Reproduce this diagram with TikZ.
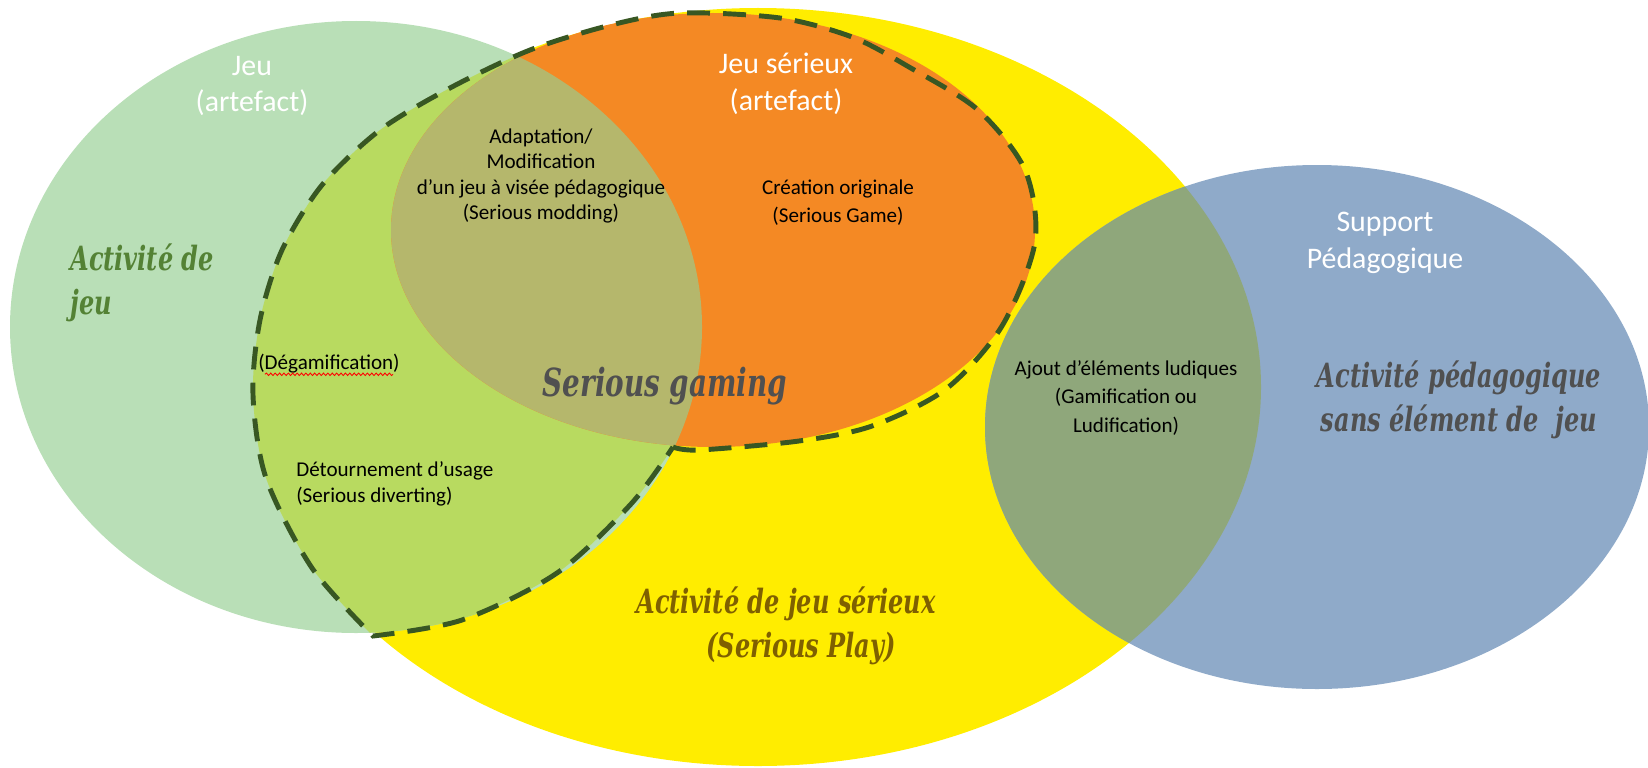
\documentclass[tikz,border=0pt]{standalone}
\usepackage{fontspec}
\setmainfont{Carlito}
\newfontfamily\lobster[FakeStretch=0.72]{DejaVu Serif}
\usetikzlibrary{positioning,decorations.pathmorphing}

\definecolor{vertclair}{RGB}{185,223,183}
\definecolor{vertlime}{RGB}{184,218,96}
\definecolor{olive}{RGB}{181,183,108}
\definecolor{orangejeu}{RGB}{244,137,36}
\definecolor{jaune}{RGB}{255,237,0}
\definecolor{bleu}{RGB}{143,170,201}
\definecolor{grisvert}{RGB}{143,167,123}
\definecolor{trait}{RGB}{56,87,35}
\definecolor{vertfonce}{RGB}{84,130,53}
\definecolor{grisfonce}{RGB}{80,80,80}
\definecolor{brun}{RGB}{127,96,0}

% contour du jeu serieux (pointille)
\def\contour{plot[smooth] coordinates {(673,447) (699,450) (799,441) (872,426)
  (946,389) (1002,326) (1035,242) (1025,170) (978,110) (909,67) (852,37) (780,18)
  (680,13) (611,25) (530,50) (450,88) (380,130) (322,185) (282,250) (260,320)
  (253,395) (266,478) (312,568) (373,636)}
  -- plot[smooth] coordinates {(373,636) (462,620) (557,573) (631,504) (673,447)}
  -- cycle}

\begin{document}
\begin{tikzpicture}[x=0.02cm, y=-0.02cm,
  petit/.style={font=\fontsize{12}{14.5}\selectfont, align=center, inner sep=0pt},
  blanc/.style={text=white, font=\fontsize{17}{21}\selectfont, align=center, inner sep=0pt},
  titre/.style={font=\lobster\bfseries\itshape\fontsize{19}{25}\selectfont, align=center, inner sep=0pt},
  pointille/.style={draw=trait, line width=2.8pt, dash pattern=on 13pt off 7.5pt}]
  \useasboundingbox (0,0) rectangle (1648,767);

  % Ensembles
  \fill[jaune] (758,387) ellipse [x radius=503, y radius=379];
  \fill[vertclair] (356,327) ellipse [x radius=346, y radius=306];
  \begin{scope}
    \clip (356,327) ellipse [x radius=346, y radius=306];
    \fill[vertlime] \contour;
  \end{scope}
  \fill[orangejeu] (713,230) ellipse [x radius=322, y radius=217];
  \begin{scope}
    \clip (356,327) ellipse [x radius=346, y radius=306];
    \fill[olive] (713,230) ellipse [x radius=322, y radius=217];
  \end{scope}
  \fill[bleu] (1317,427) ellipse [x radius=332, y radius=262];
  \begin{scope}
    \clip (758,387) ellipse [x radius=503, y radius=379];
    \fill[grisvert] (1317,427) ellipse [x radius=332, y radius=262];
  \end{scope}
  \draw[pointille] \contour;

  % Etiquettes
  \node[blanc] (jeu) at (252,86) {Jeu\\(artefact)};
  \node[blanc] (jeuserieux) at (786,84) {Jeu sérieux\\(artefact)};
  \node[blanc] (support) at (1385,243) {Support\\Pédagogique};
  \node[titre, text=vertfonce, align=left, anchor=west] (activitejeu) at (70,283) {Activité de\\jeu};
  \node[petit] (modding) at (541,176) {Adaptation/\\Modification\\d’un jeu à visée pédagogique\\(Serious modding)};
  \node[petit, font=\fontsize{12}{16}\selectfont] (creation) at (838,203) {Création originale\\(Serious Game)};
  \node[titre, text=grisfonce, font=\lobster\bfseries\itshape\fontsize{22}{28}\selectfont] (gaming) at (665,386) {Serious gaming};
  \node[petit, anchor=west] (degam) at (258,364) {(Dégamification)};
  \draw[red, line width=0.5pt, decorate, decoration={snake, amplitude=0.7pt, segment length=2.5pt}]
    ([xshift=0.14cm, yshift=-2.5pt]degam.base west) -- ([xshift=-0.14cm, yshift=-2.5pt]degam.base east);
  \node[petit, align=left, anchor=west, font=\fontsize{12}{15}\selectfont] (detournement) at (296,484) {Détournement d’usage\\(Serious diverting)};
  \node[petit, font=\fontsize{12}{16}\selectfont] (ajout) at (1126,398) {Ajout d’éléments ludiques\\(Gamification ou\\Ludification)};
  \node[titre, text=grisfonce] (pedagogique) at (1459,400) {Activité pédagogique\\sans élément de\ \ jeu};
  \node[titre, text=brun, align=left, anchor=west] (play) at (636,626) {Activité de jeu sérieux\\\hspace*{1.4cm}(Serious Play)};
\end{tikzpicture}
\end{document}
